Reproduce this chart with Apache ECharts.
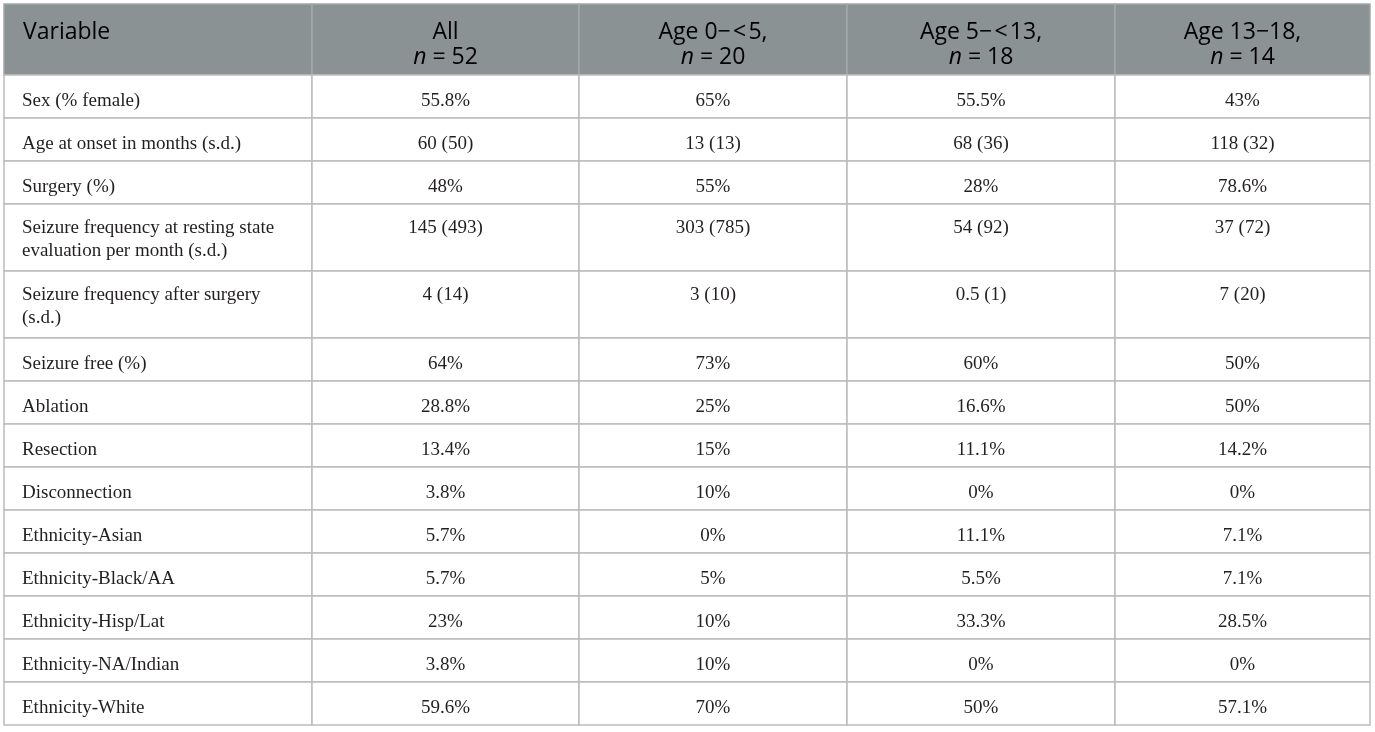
<!DOCTYPE html>
<html><head><meta charset="utf-8">
<script src="https://cdn.jsdelivr.net/npm/echarts@6/dist/echarts.min.js"></script>
<style>html,body{margin:0;padding:0;background:#fff}#c{width:1375px;height:732px}</style>
</head><body><div id="c"></div>
<script>
// ---- data ----
const headerTitles = ["Variable", "All", "Age 0\u2212\u200A<\u200A5,", "Age 5\u2212\u200A<\u200A13,", "Age 13\u221218,"];
const headerN = [null, 52, 20, 18, 14];
const variables = [
  "Sex (% female)",
  "Age at onset in months (s.d.)",
  "Surgery (%)",
  "Seizure frequency at resting state\nevaluation per month (s.d.)",
  "Seizure frequency after surgery\n(s.d.)",
  "Seizure free (%)",
  "Ablation",
  "Resection",
  "Disconnection",
  "Ethnicity-Asian",
  "Ethnicity-Black/AA",
  "Ethnicity-Hisp/Lat",
  "Ethnicity-NA/Indian",
  "Ethnicity-White"
];
const allGroup = ["55.8%","60 (50)","48%","145 (493)","4 (14)","64%","28.8%","13.4%","3.8%","5.7%","5.7%","23%","3.8%","59.6%"];
const age0to5 = ["65%","13 (13)","55%","303 (785)","3 (10)","73%","25%","15%","10%","0%","5%","10%","10%","70%"];
const age5to13 = ["55.5%","68 (36)","28%","54 (92)","0.5 (1)","60%","16.6%","11.1%","0%","11.1%","5.5%","33.3%","0%","50%"];
const age13to18 = ["43%","118 (32)","78.6%","37 (72)","7 (20)","50%","50%","14.2%","0%","7.1%","7.1%","28.5%","0%","57.1%"];

// ---- layout ----
const colWidths = [308, 267, 268, 268, 255];
const headerHeight = 71;
const lineH = 24, rowPad = 19;

const columns = [variables, allGroup, age0to5, age5to13, age13to18];
const colStart = [0];
colWidths.forEach(w => colStart.push(colStart[colStart.length - 1] + w));
const rowLines = variables.map(v => v.split("\n").length);
const rowHeights = [headerHeight].concat(rowLines.map(n => rowPad + lineH * n));
const rowStart = [0];
rowHeights.forEach(h => rowStart.push(rowStart[rowStart.length - 1] + h));
const totalW = colStart[colStart.length - 1];
const totalH = rowStart[rowStart.length - 1];

const cells = [];
for (let c = 0; c < columns.length; c++) {
  cells.push({ value: [c, 0], text: headerTitles[c], n: headerN[c] });
}
for (let r = 0; r < variables.length; r++) {
  for (let c = 0; c < columns.length; c++) {
    cells.push({ value: [c, r + 1], text: columns[c][r], lines: rowLines[r] });
  }
}

const chart = echarts.init(document.getElementById('c'));
chart.setOption({
  animation: false,
  backgroundColor: '#fff',
  grid: { left: 4, top: 4, width: totalW, height: totalH },
  xAxis: { type: 'value', min: 0, max: totalW, show: false },
  yAxis: { type: 'value', min: 0, max: totalH, inverse: true, show: false },
  series: [{
    type: 'custom',
    coordinateSystem: 'cartesian2d',
    data: cells,
    renderItem: function (params, api) {
      const c = api.value(0), r = api.value(1);
      const p0 = api.coord([colStart[c], rowStart[r]]);
      const p1 = api.coord([colStart[c + 1], rowStart[r + 1]]);
      const w = p1[0] - p0[0], h = p1[1] - p0[1];
      const cell = cells[params.dataIndex];
      const isHead = r === 0;
      const children = [{
        type: 'rect',
        z2: isHead ? 1 : 2,
        shape: { x: p0[0], y: p0[1], width: w, height: h },
        style: { fill: isHead ? '#8b9294' : '#ffffff', stroke: isHead ? '#a3a8a9' : '#bcbcbc', lineWidth: 1.5 }
      }];
      if (isHead) {
        let txt = '{a|' + cell.text + '}';
        if (cell.n != null) txt += '\n{i|n}{a| = ' + cell.n + '}';
        children.push({
          type: 'text', z2: 5,
          style: {
            text: txt,
            x: c === 0 ? p0[0] + 19 : (p0[0] + p1[0]) / 2,
            y: p0[1] + 16,
            align: c === 0 ? 'left' : 'center',
            verticalAlign: 'top',
            rich: {
              a: { fontFamily: 'Open Sans', fontSize: 23, color: '#ffffff', lineHeight: 25 },
              i: { fontFamily: 'Open Sans', fontSize: 23, fontStyle: 'italic', color: '#ffffff', lineHeight: 25 }
            }
          }
        });
      } else {
        children.push({
          type: 'text', z2: 5,
          style: {
            text: cell.text,
            x: c === 0 ? p0[0] + 18 : (p0[0] + p1[0]) / 2,
            y: p0[1] + (cell.lines > 1 ? 13 : 15),
            align: c === 0 ? 'left' : 'center',
            verticalAlign: 'top',
            fontFamily: 'Liberation Serif',
            fontSize: 19,
            lineHeight: 23,
            fill: '#231f20'
          }
        });
      }
      return { type: 'group', children: children };
    }
  }]
});
</script>
</body></html>
